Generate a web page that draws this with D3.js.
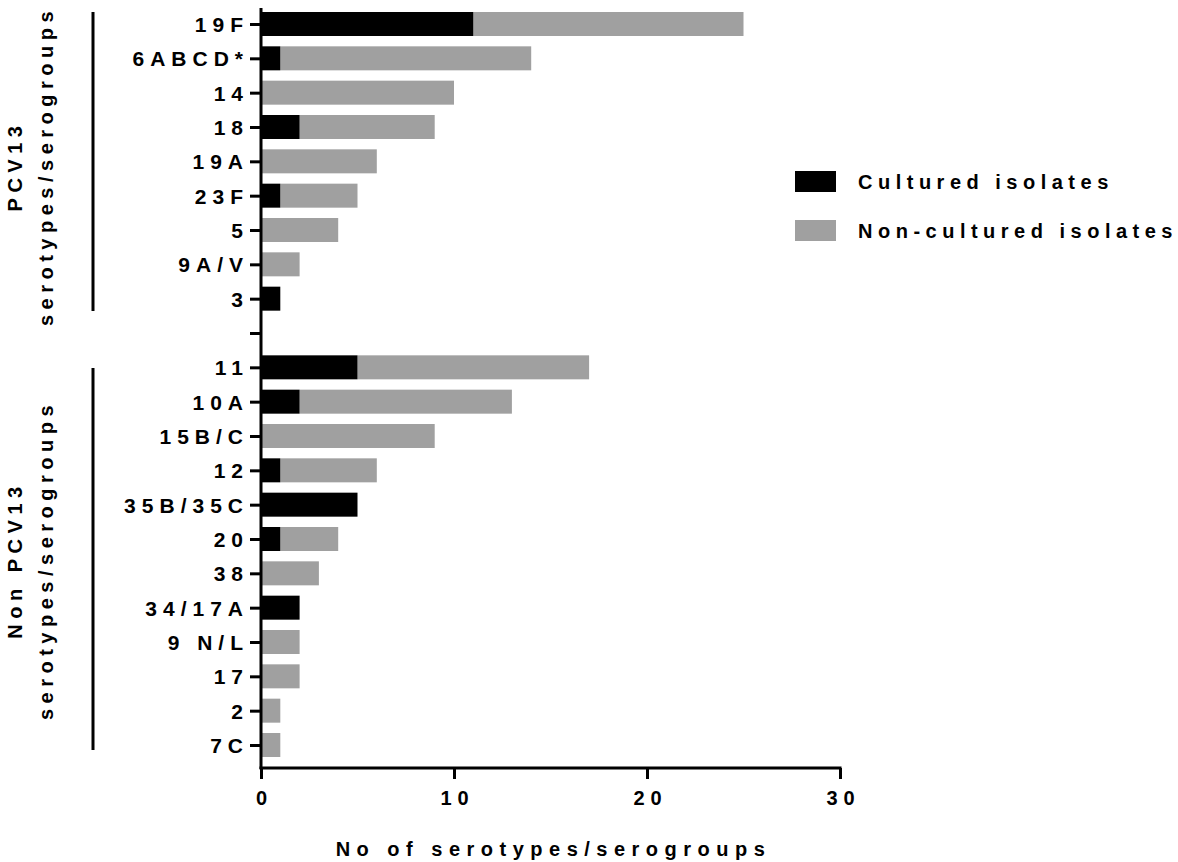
<!DOCTYPE html>
<html>
<head>
<meta charset="utf-8">
<script src="https://cdn.jsdelivr.net/npm/d3@7"></script>
<style>
  body { margin: 0; background: #fff; }
  text { font-family: "Liberation Sans", Arial, sans-serif; font-weight: bold; fill: #000; }
</style>
</head>
<body>
<svg id="chart" width="1178" height="862"></svg>
<script>
// serotypes, top to bottom ("" is the spacer row between the two groups)
const serotypes = ["19F", "6ABCD*", "14", "18", "19A", "23F", "5", "9A/V", "3", "",
  "11", "10A", "15B/C", "12", "35B/35C", "20", "38", "34/17A", "9 N/L", "17", "2", "7C"];
const cultured    = [11, 1, 0, 2, 0, 1, 0, 0, 1, 0, 5, 2, 0, 1, 5, 1, 0, 2, 0, 0, 0, 0];
const nonCultured = [14, 13, 10, 7, 6, 4, 4, 2, 0, 0, 12, 11, 9, 5, 0, 3, 3, 0, 2, 2, 1, 1];
const xTicks = [0, 10, 20, 30];
const seriesNames = ["Cultured isolates", "Non-cultured isolates"];
const colors = ["#000000", "#a0a0a0"];

let svg = d3.select("#chart");

let x = d3.scaleLinear().domain([0, 30]).range([261, 840]);
let y = d3.scalePoint().domain(serotypes).range([24, 745]);
let barH = 24;

let rows = serotypes.map(function(s, i) {
  return { name: s, c: cultured[i], n: nonCultured[i] };
}).filter(d => d.name !== "");

// grey (non-cultured) stacked after black (cultured)
svg.append("g").selectAll("rect.nc")
  .data(rows).enter().append("rect")
  .attr("x", d => x(d.c))
  .attr("y", d => y(d.name) - barH / 2)
  .attr("width", d => x(d.c + d.n) - x(d.c))
  .attr("height", barH)
  .attr("fill", colors[1]);

svg.append("g").selectAll("rect.c")
  .data(rows).enter().append("rect")
  .attr("x", x(0))
  .attr("y", d => y(d.name) - barH / 2)
  .attr("width", d => x(d.c) - x(0))
  .attr("height", barH)
  .attr("fill", colors[0]);

// y axis
let yAxis = svg.append("g")
  .attr("transform", "translate(" + x(0) + ",0)")
  .call(d3.axisLeft(y).tickSize(11).tickPadding(7));
yAxis.select(".domain").remove();
yAxis.selectAll(".tick line").attr("stroke", "#000").attr("stroke-width", 3);
yAxis.selectAll(".tick text")
  .style("font-size", "21px").style("letter-spacing", "6px")
  .attr("dx", "6px").attr("dy", "0.36em").attr("y", 0);
svg.append("line")
  .attr("x1", x(0)).attr("x2", x(0))
  .attr("y1", 8).attr("y2", 769)
  .attr("stroke", "#000").attr("stroke-width", 3);

// x axis
let xAxis = svg.append("g")
  .attr("transform", "translate(0,768)")
  .call(d3.axisBottom(x).tickValues(xTicks).tickSize(11).tickPadding(12).tickSizeOuter(0));
xAxis.select(".domain").attr("stroke", "#000").attr("stroke-width", 3)
  .attr("d", "M" + (x(0) - 1.5) + ",0H" + (x(30) + 1.5));
xAxis.selectAll(".tick line").attr("stroke", "#000").attr("stroke-width", 3);
xAxis.selectAll(".tick text")
  .style("font-size", "20px").style("letter-spacing", "6px").attr("dx", "3px");

svg.append("text")
  .attr("x", (x(0) + x(30)) / 2 + 3).attr("y", 856)
  .attr("text-anchor", "middle")
  .style("font-size", "20px").style("letter-spacing", "6.5px")
  .text("No of serotypes/serogroups");

// group brackets and labels
let groups = [
  { y1: 12, y2: 311, lines: ["PCV13", "serotypes/serogroups"], cy: 166 },
  { y1: 368, y2: 750, lines: ["Non PCV13", "serotypes/serogroups"], cy: 560 }
];
groups.forEach(function(g) {
  svg.append("line")
    .attr("x1", 93).attr("x2", 93).attr("y1", g.y1).attr("y2", g.y2)
    .attr("stroke", "#000").attr("stroke-width", 3);
  g.lines.forEach(function(t, i) {
    svg.append("text")
      .attr("transform", "translate(" + (22 + i * 31) + "," + g.cy + ") rotate(-90)")
      .attr("text-anchor", "middle")
      .style("font-size", "20px").style("letter-spacing", "5.5px")
      .text(t);
  });
});

// legend
let legend = svg.append("g").selectAll("g")
  .data(seriesNames).enter().append("g")
  .attr("transform", (d, i) => "translate(795," + (171 + i * 49) + ")");
legend.append("rect")
  .attr("width", 41).attr("height", 21)
  .attr("fill", (d, i) => colors[i]);
legend.append("text")
  .attr("x", 63).attr("y", 18)
  .style("font-size", "20px").style("letter-spacing", "5.5px")
  .text(d => d);
</script>
</body>
</html>
